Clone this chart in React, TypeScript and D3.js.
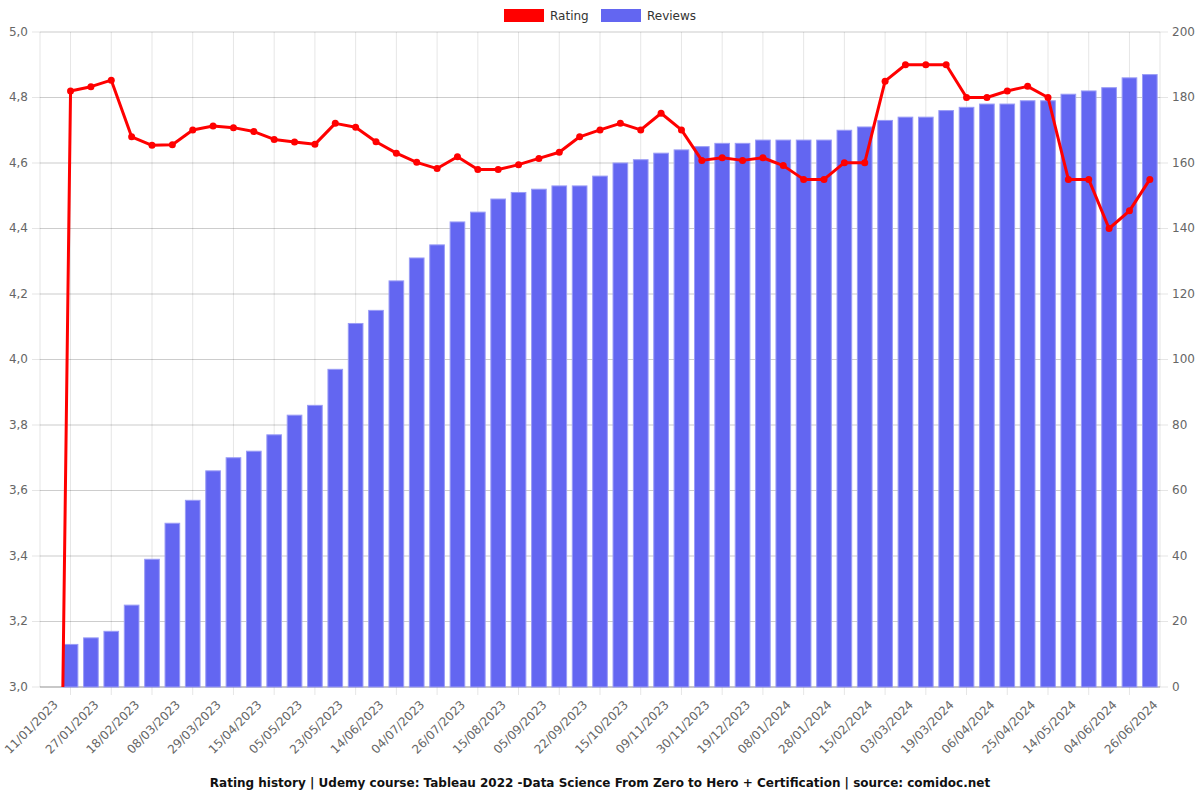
import * as d3 from "d3";

// tick labels shown under every second category (index 0, 2, 4, ...)
const tickLabels = [
  "11/01/2023", "27/01/2023", "18/02/2023", "08/03/2023", "29/03/2023", "15/04/2023",
  "05/05/2023", "23/05/2023", "14/06/2023", "04/07/2023", "26/07/2023", "15/08/2023",
  "05/09/2023", "22/09/2023", "15/10/2023", "09/11/2023", "30/11/2023", "19/12/2023",
  "08/01/2024", "28/01/2024", "15/02/2024", "03/03/2024", "19/03/2024", "06/04/2024",
  "25/04/2024", "14/05/2024", "04/06/2024", "26/06/2024",
];

const reviews = [
  0, 13, 15, 17, 25, 39, 50, 57, 66, 70, 72, 77, 83, 86, 97, 111, 115, 124, 131, 135,
  142, 145, 149, 151, 152, 153, 153, 156, 160, 161, 163, 164, 165, 166, 166, 167, 167,
  167, 167, 170, 171, 173, 174, 174, 176, 177, 178, 178, 179, 179, 181, 182, 183, 186, 187,
];

const rating = [
  0, 4.82, 4.833, 4.853, 4.68, 4.654, 4.656, 4.701, 4.713, 4.708, 4.696, 4.672, 4.664,
  4.657, 4.721, 4.709, 4.665, 4.63, 4.602, 4.583, 4.619, 4.58, 4.58, 4.595, 4.614, 4.633,
  4.68, 4.701, 4.721, 4.701, 4.752, 4.701, 4.608, 4.616, 4.608, 4.616, 4.592, 4.55, 4.55,
  4.601, 4.601, 4.85, 4.9, 4.9, 4.9, 4.8, 4.8, 4.82, 4.834, 4.8, 4.55, 4.55, 4.4, 4.454, 4.55,
];

const title =
  "Rating history | Udemy course: Tableau 2022 -Data Science From Zero to Hero + Certification | source: comidoc.net";

const width = 1200;
const height = 800;
const left = 40;
const right = 1160;
const top = 32;
const bottom = 687;
const font = "DejaVu Sans, sans-serif";
const gridColor = "rgba(0,0,0,0.1)";

export default function App() {
  const idx = d3.range(reviews.length);
  const x = d3.scaleBand<number>().domain(idx).range([left, right]).paddingInner(0.28).paddingOuter(0.14);
  const cx = (i: number) => (x(i) as number) + x.bandwidth() / 2;
  const step = x.step();
  const yL = d3.scaleLinear().domain([3, 5]).range([bottom, top]);
  const yR = d3.scaleLinear().domain([0, 200]).range([bottom, top]);

  const line = d3
    .line<number>()
    .x((d, i) => cx(i))
    .y((d) => yL(d));

  const leftTicks = yL.ticks(10);
  const rightTicks = yR.ticks(10);
  const fmt = (v: number) => d3.format(".1f")(v).replace(".", ",");
  // vertical grid sits halfway between the shown labels, i.e. on odd categories
  const vGrid = idx.filter((i) => i % 2 === 1);

  return (
    <svg width={width} height={height} style={{ position: "absolute", left: 0, top: 0, background: "#fff" }}>
      <defs>
        <clipPath id="plot">
          <rect x={left} y={top} width={right - left} height={bottom - top} />
        </clipPath>
      </defs>

      {/* grid */}
      {leftTicks.map((t) => (
        <line key={"gl" + t} x1={left - 8} x2={right} y1={yL(t)} y2={yL(t)} stroke={gridColor} />
      ))}
      {rightTicks.map((t) => (
        <line key={"gr" + t} x1={left} x2={right + 8} y1={yR(t)} y2={yR(t)} stroke={gridColor} />
      ))}
      {vGrid.map((i) => (
        <line key={"v" + i} x1={cx(i)} x2={cx(i)} y1={top} y2={bottom + 8} stroke={gridColor} />
      ))}
      <line x1={left} x2={left} y1={top} y2={bottom} stroke={gridColor} />
      <line x1={right} x2={right} y1={top} y2={bottom} stroke={gridColor} />
      <line x1={left} x2={right} y1={bottom} y2={bottom} stroke="rgba(0,0,0,0.25)" />

      {/* bars */}
      {reviews.map((v, i) => (
        <rect
          key={"b" + i}
          x={x(i)}
          y={yR(v)}
          width={x.bandwidth()}
          height={bottom - yR(v)}
          fill="#6366f1"
          stroke="#9a9cf6"
          strokeWidth={1}
        />
      ))}

      {/* rating line */}
      <g clipPath="url(#plot)">
        <path d={line(rating) || undefined} fill="none" stroke="#ff0000" strokeWidth={3} strokeLinejoin="round" />
        {rating.map((r, i) => (
          <circle key={"p" + i} cx={cx(i)} cy={yL(r)} r={3.5} fill="#ff0000" />
        ))}
      </g>

      {/* left axis */}
      {leftTicks.map((t) => (
        <text key={"lt" + t} x={left - 12} y={yL(t)} textAnchor="end" dominantBaseline="middle"
          fontFamily={font} fontSize={12} fill="#666">
          {fmt(t)}
        </text>
      ))}
      {/* right axis */}
      {rightTicks.map((t) => (
        <text key={"rt" + t} x={right + 12} y={yR(t)} textAnchor="start" dominantBaseline="middle"
          fontFamily={font} fontSize={12} fill="#666">
          {t}
        </text>
      ))}
      {/* x labels */}
      {tickLabels.map((l, k) => {
        const px = cx(k * 2) + 6;
        const py = bottom + 16;
        return (
          <text key={"xl" + k} x={px} y={py} transform={`rotate(-45 ${px} ${py})`} textAnchor="end"
            dominantBaseline="middle" fontFamily={font} fontSize={12} fill="#666">
            {l}
          </text>
        );
      })}

      {/* legend */}
      <rect x={504} y={9} width={40} height={13} fill="#ff0000" />
      <text x={550} y={16} dominantBaseline="middle" fontFamily={font} fontSize={12} fill="#333">Rating</text>
      <rect x={601} y={9} width={40} height={13} fill="#6366f1" />
      <text x={647} y={16} dominantBaseline="middle" fontFamily={font} fontSize={12} fill="#333">Reviews</text>

      {/* title */}
      <text x={width / 2} y={783} textAnchor="middle" dominantBaseline="middle" fontFamily={font}
        fontSize={12} fontWeight="bold" fill="#111">
        {title}
      </text>
      {step > 0 ? null : null}
    </svg>
  );
}
